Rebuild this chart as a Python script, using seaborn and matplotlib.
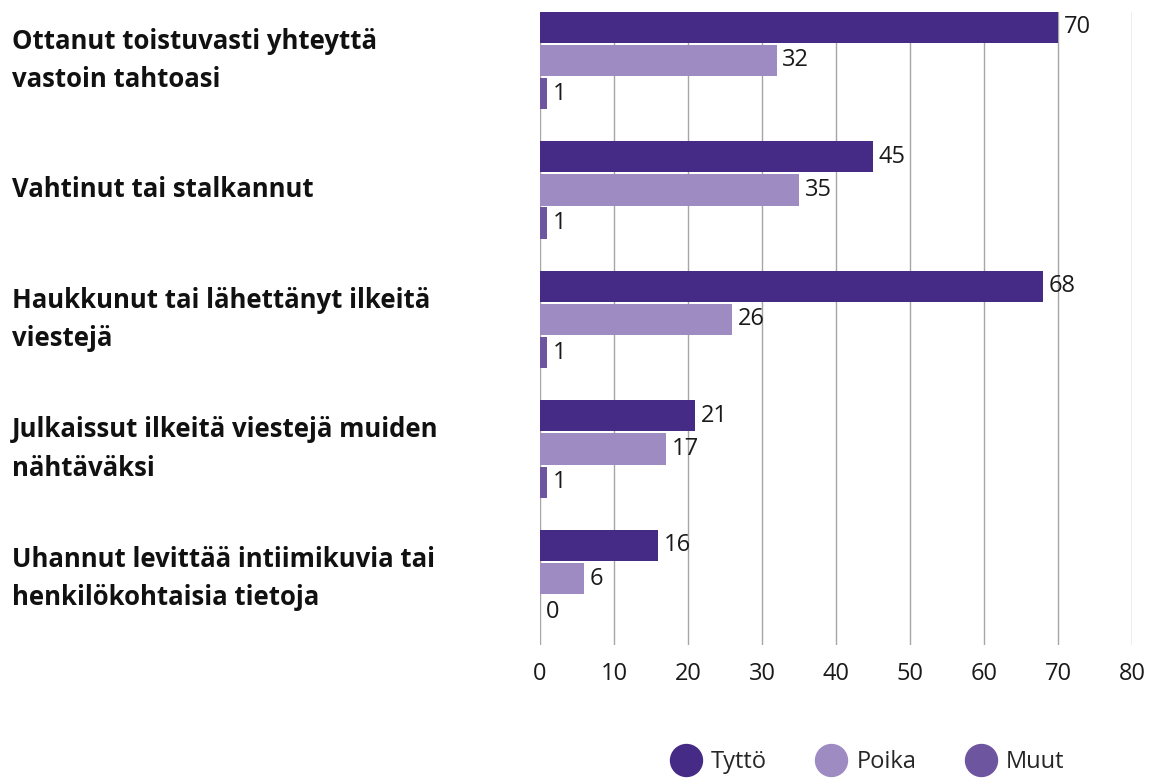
import matplotlib
matplotlib.use("Agg")
import matplotlib.pyplot as plt
import matplotlib.transforms as mtransforms
from matplotlib.lines import Line2D
import pandas as pd
import seaborn as sns

categories = [
    "Ottanut toistuvasti yhteyttä\nvastoin tahtoasi",
    "Vahtinut tai stalkannut",
    "Haukkunut tai lähettänyt ilkeitä\nviestejä",
    "Julkaissut ilkeitä viestejä muiden\nnähtäväksi",
    "Uhannut levittää intiimikuvia tai\nhenkilökohtaisia tietoja",
]
groups = ["Tyttö", "Poika", "Muut"]
tytto = [70, 45, 68, 21, 16]
poika = [32, 35, 26, 17, 6]
muut = [1, 1, 1, 1, 0]
x_ticks = [0, 10, 20, 30, 40, 50, 60, 70, 80]

colors = {"Tyttö": "#452b85", "Poika": "#9d8bc2", "Muut": "#6e559f"}

rows = []
for series_name, values in zip(groups, [tytto, poika, muut]):
    for cat, v in zip(categories, values):
        rows.append({"kategoria": cat, "ryhmä": series_name, "arvo": v})
df = pd.DataFrame(rows)

sns.set_theme(style="white")
plt.rcParams["font.family"] = ["Open Sans", "DejaVu Sans"]

fig = plt.figure(figsize=(11.52, 7.78), dpi=100)
ax = fig.add_axes([0.46875, 0.17095, 0.51389, 0.81363])

sns.barplot(
    data=df, y="kategoria", x="arvo", hue="ryhmä",
    order=categories, hue_order=groups, palette=colors,
    orient="h", width=0.765, gap=0.06, saturation=1,
    linewidth=0, edgecolor="none",
    legend=False, ax=ax,
)

for container, values in zip(ax.containers, [tytto, poika, muut]):
    ax.bar_label(container, labels=[str(v) for v in values], padding=4,
                 fontsize=17, color="#1a1a1a")

ax.set_xlim(0, 80)
ax.set_ylim(4.5135, -0.3745)
ax.set_xticks(x_ticks)
ax.set_xticklabels([str(t) for t in x_ticks], fontsize=17, color="#1a1a1a")
ax.tick_params(axis="x", length=0, pad=12)
ax.grid(axis="x", color="#a6a6a6", linewidth=1)
ax.set_axisbelow(True)
for s in ax.spines.values():
    s.set_visible(False)

ax.set_yticks(range(len(categories)))
ax.set_yticklabels([])
ax.tick_params(axis="y", length=0)
ax.set_xlabel("")
ax.set_ylabel("")

trans = mtransforms.blended_transform_factory(fig.transFigure, ax.transData)
for i, cat in enumerate(categories):
    fig.text(12 / 1152, i, cat, transform=trans, ha="left", va="center",
             fontsize=18.5, fontweight="bold", color="#111111", linespacing=1.56)

handles = [Line2D([0], [0], marker="o", linestyle="", markersize=23,
                  markerfacecolor=colors[g], markeredgecolor=colors[g]) for g in groups]
fig.legend(handles, groups, loc="center", bbox_to_anchor=(868 / 1152, 1 - 762 / 778),
           ncol=3, frameon=False, fontsize=17, handletextpad=0.45,
           columnspacing=2.15, handlelength=1.2)

fig.savefig("out.png", dpi=100)
